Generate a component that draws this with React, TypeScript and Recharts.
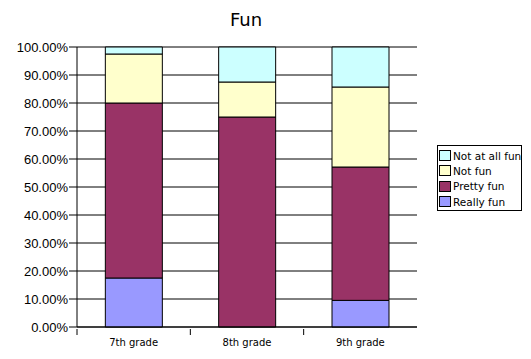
import { BarChart, Bar, XAxis, YAxis, CartesianGrid } from 'recharts'

const grades = ['7th grade', '8th grade', '9th grade']
const reallyFun = [17.5, 0, 9.52]
const prettyFun = [62.5, 75, 47.62]
const notFun = [17.5, 12.5, 28.57]
const notAtAllFun = [2.5, 12.5, 14.29]
const yTicks = [0, 10, 20, 30, 40, 50, 60, 70, 80, 90, 100]

const series = [
  { key: 'reallyFun', name: 'Really fun', color: '#9999ff' },
  { key: 'prettyFun', name: 'Pretty fun', color: '#993366' },
  { key: 'notFun', name: 'Not fun', color: '#ffffcc' },
  { key: 'notAtAllFun', name: 'Not at all fun', color: '#ccffff' },
]

const data = grades.map((g, i) => ({
  grade: g,
  reallyFun: reallyFun[i],
  prettyFun: prettyFun[i],
  notFun: notFun[i],
  notAtAllFun: notAtAllFun[i],
}))

const W = 531
const H = 359
const PLOT_LEFT = 77
const PLOT_RIGHT = 417
const BAND = (PLOT_RIGHT - PLOT_LEFT) / grades.length

function XTick(props: any) {
  const { x, y, payload } = props
  const left = x - BAND / 2
  return (
    <g>
      <line x1={left} x2={left} y1={y} y2={y + 6} stroke="#000" />
      <text x={x} y={y + 17} textAnchor="middle" fontSize={10} fontFamily="DejaVu Sans" fill="#000">
        {payload.value}
      </text>
    </g>
  )
}

// legend lists the series top-down, opposite of the stacking order
function LegendBox() {
  const items = [...series].reverse()
  return (
    <div style={{ position: 'absolute', left: 437, top: 145, border: '1px solid #000', width: 85, height: 66, paddingTop: 2, boxSizing: 'border-box', background: '#fff' }}>
      {items.map((s) => (
        <div key={s.key} style={{ display: 'flex', alignItems: 'center', height: 15.3, fontFamily: 'DejaVu Sans', fontSize: 10.5, whiteSpace: 'nowrap' }}>
          <span style={{ display: 'inline-block', flex: 'none', width: 10, height: 9, background: s.color, border: '1px solid #000', marginLeft: 1, marginRight: 2 }} />
          {s.name}
        </div>
      ))}
    </div>
  )
}

export default function App() {
  return (
    <div style={{ position: 'absolute', left: 0, top: 0, width: W, height: H, background: '#fff' }}>
      <div style={{ position: 'absolute', left: 0, width: 492, top: 9, textAlign: 'center', fontFamily: 'DejaVu Sans', fontSize: 18, color: '#000' }}>
        Fun
      </div>
      <BarChart
        width={W}
        height={H}
        data={data}
        margin={{ top: 47, right: W - PLOT_RIGHT, left: 0, bottom: 0 }}
        barCategoryGap="25%"
      >
        <CartesianGrid vertical={false} stroke="#000" strokeOpacity={1} />
        <XAxis
          dataKey="grade"
          height={32}
          axisLine={{ stroke: '#000' }}
          tickLine={false}
          tick={<XTick />}
          tickSize={0}
          interval={0}
        />
        <YAxis
          width={PLOT_LEFT}
          domain={[0, 100]}
          ticks={yTicks}
          tickFormatter={(v: number) => `${v.toFixed(2)}%`}
          axisLine={{ stroke: '#000' }}
          tickLine={{ stroke: '#000' }}
          tickSize={8}
          tickMargin={1}
          tick={{ fontSize: 13, fontFamily: 'Liberation Sans', fill: '#000' }}
        />
        {series.map((s) => (
          <Bar
            key={s.key}
            dataKey={s.key}
            name={s.name}
            stackId="a"
            fill={s.color}
            stroke="#000"
            strokeWidth={1}
            isAnimationActive={false}
          />
        ))}
      </BarChart>
      <LegendBox />
    </div>
  )
}
